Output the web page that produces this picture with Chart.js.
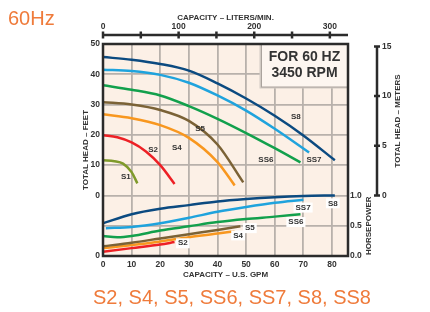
<!DOCTYPE html>
<html>
<head>
<meta charset="utf-8">
<script src="https://cdn.jsdelivr.net/npm/chart.js@4.4.0/dist/chart.umd.min.js"></script>
<style>
  body { margin: 0; background: #fff; }
  #wrap { position: relative; width: 430px; height: 312px; }
  .big { position: absolute; font-family: Arial, "Liberation Sans", sans-serif; font-size: 20px; line-height: 20px; color: #ef7b3b; white-space: nowrap; }
</style>
</head>
<body>
<div id="wrap">
  <canvas id="pump" width="430" height="312"></canvas>
  <div class="big" style="left:8px; top:8px;">60Hz</div>
  <div class="big" style="left:93px; top:287px;">S2, S4, S5, SS6, SS7, S8, SS8</div>
</div>
<script>
// head curves (feet) vs capacity (gpm)
const s8Gpm = [0, 10, 20, 30, 40, 50, 60, 70, 81];
const s8Head = [45.7, 44.8, 43.4, 41.2, 37, 32, 26.3, 19.8, 11.6];
const ss7Gpm = [0, 10, 20, 30, 40, 50, 60, 72];
const ss7Head = [41.5, 41.1, 39.8, 37.2, 33, 28, 22, 14.2];
const ss6Gpm = [0, 10, 20, 30, 40, 50, 60, 69];
const ss6Head = [36.4, 34.9, 33, 29.5, 25.3, 20.6, 15.6, 10.9];
const s5Gpm = [0, 10, 20, 30, 40, 49];
const s5Head = [30.8, 30, 28.2, 24.6, 16.8, 4.3];
const s4Gpm = [0, 10, 20, 30, 40, 46];
const s4Head = [26.8, 25.5, 23.2, 19, 11, 3.3];
const s2Gpm = [0, 5, 10, 15, 20, 25];
const s2Head = [19.9, 19.2, 17.5, 14.5, 10, 3.8];
const s1Gpm = [0, 4, 7, 10, 12];
const s1Head = [11.6, 11.3, 10.5, 7.7, 4];

// horsepower curves vs capacity (gpm)
const s8HpGpm = [0, 10, 20, 30, 40, 50, 60, 70, 81];
const s8Hp = [0.54, 0.69, 0.78, 0.84, 0.9, 0.94, 0.97, 0.99, 1.0];
const ss7HpGpm = [1, 10, 20, 30, 40, 50, 60, 70];
const ss7Hp = [0.46, 0.48, 0.54, 0.63, 0.73, 0.81, 0.88, 0.93];
const ss6HpGpm = [0, 5, 10, 20, 30, 40, 50, 60, 69];
const ss6Hp = [0.33, 0.31, 0.33, 0.42, 0.49, 0.56, 0.61, 0.65, 0.69];
const s5HpGpm = [0, 10, 20, 30, 40, 48];
const s5Hp = [0.16, 0.22, 0.29, 0.36, 0.43, 0.49];
const s4HpGpm = [0, 10, 20, 30, 40, 46];
const s4Hp = [0.13, 0.18, 0.24, 0.31, 0.37, 0.41];
const s2HpGpm = [0, 10, 20, 25];
const s2Hp = [0.07, 0.13, 0.19, 0.23];

// tick values
const feetTicks = [-20, -10, 0, 10, 20, 30, 40, 50];
const hpTicks = [0, 0.5, 1.0];
const meterTicks = [0, 5, 10, 15];
const literTicks = [0, 50, 100, 150, 200, 250, 300];

// curve names [text, gpm, value, axis]
const curveLabels = [
  ["S8", 67.4, 25.8, "y"], ["SS7", 73.7, 11.9, "y"], ["SS6", 56.9, 11.9, "y"],
  ["S5", 33.9, 21.9, "y"], ["S4", 25.8, 15.6, "y"], ["S2", 17.5, 15.2, "y"],
  ["S1", 8.0, 6.0, "y"],
  ["S8", 80.3, 0.87, "yHp"], ["SS7", 69.9, 0.8, "yHp"], ["SS6", 67.4, 0.56, "yHp"],
  ["S5", 51.3, 0.46, "yHp"], ["S4", 47.2, 0.34, "yHp"], ["S2", 27.9, 0.21, "yHp"],
];

const FT_TO_M = 0.3048;
const GPM_TO_L = 3.785;
const X_MAX = 85.6;
const FONT = "Arial, 'Liberation Sans', sans-serif";

function pts(xs, ys) {
  return xs.map((x, i) => ({ x: x, y: ys[i] }));
}

function curve(xs, ys, color, axis) {
  return {
    data: pts(xs, ys),
    borderColor: color,
    borderWidth: 2.5,
    pointRadius: 0,
    fill: false,
    cubicInterpolationMode: "monotone",
    yAxisID: axis,
  };
}

const navy = "#0b4a80", sky = "#1fa3dd", green = "#12a04c", brown = "#7b6236",
  orange = "#f8971f", red = "#ed2025", olive = "#7f9a2b";

const extras = {
  id: "extras",
  beforeDraw(chart) {
    const { ctx, chartArea: a } = chart;
    ctx.save();
    ctx.fillStyle = "#fcf0e6";
    ctx.fillRect(a.left, a.top, a.right - a.left, a.bottom - a.top);
    ctx.restore();
  },
  beforeDatasetsDraw(chart) {
    const { ctx, chartArea: a, scales } = chart;
    const bl = scales.x.getPixelForValue(55.2);
    const bb = scales.y.getPixelForValue(35.8);
    ctx.save();
    ctx.fillStyle = "#d2cbc4";
    ctx.fillRect(bl - 1.5, a.top, a.right - bl + 1.5, bb - a.top + 1.5);
    ctx.fillStyle = "#fdf6f0";
    ctx.fillRect(bl, a.top, a.right - bl, bb - a.top);
    ctx.strokeStyle = "#aaa39d";
    ctx.lineWidth = 1;
    ctx.strokeRect(bl + 0.5, a.top, a.right - bl, bb - a.top);
    ctx.fillStyle = "#333";
    ctx.font = "bold 14px " + FONT;
    ctx.textAlign = "center";
    ctx.textBaseline = "middle";
    const cx = (bl + a.right) / 2;
    ctx.fillText("FOR 60 HZ", cx, a.top + 13);
    ctx.fillText("3450 RPM", cx, a.top + 29);
    ctx.restore();
  },
  afterDatasetsDraw(chart) {
    const { ctx, chartArea: a, scales } = chart;
    ctx.save();
    // frame
    ctx.strokeStyle = "#2b2b2b";
    ctx.lineWidth = 2.5;
    ctx.strokeRect(a.left, a.top, a.right - a.left, a.bottom - a.top);

    // top liters axis
    const y0 = a.top - 9;
    ctx.beginPath();
    ctx.moveTo(scales.x2.getPixelForValue(0), y0);
    ctx.lineTo(a.right, y0);
    literTicks.forEach((v) => {
      const px = scales.x2.getPixelForValue(v);
      ctx.moveTo(px, y0 - 3.5);
      ctx.lineTo(px, y0 + 3.5);
    });
    ctx.stroke();

    // meters axis
    const m = scales.yM;
    const xm = m.left + 1;
    ctx.beginPath();
    ctx.moveTo(xm, m.getPixelForValue(0));
    ctx.lineTo(xm, m.getPixelForValue(15));
    meterTicks.forEach((v) => {
      const py = m.getPixelForValue(v);
      ctx.moveTo(xm - 3, py);
      ctx.lineTo(xm + 3, py);
    });
    ctx.stroke();

    // rotated right titles
    ctx.fillStyle = "#333";
    ctx.font = "bold 8px " + FONT;
    ctx.textAlign = "center";
    ctx.textBaseline = "middle";
    ctx.save();
    ctx.translate(scales.yHp.left + 21, scales.yHp.getPixelForValue(0.5));
    ctx.rotate(-Math.PI / 2);
    ctx.fillText("HORSEPOWER", 0, 0);
    ctx.restore();
    ctx.save();
    ctx.translate(m.left + 22, m.getPixelForValue(7.5));
    ctx.rotate(-Math.PI / 2);
    ctx.fillText("TOTAL HEAD – METERS", 0, 0);
    ctx.restore();

    // curve names
    curveLabels.forEach(([t, gx, gv, ax]) => {
      const px = scales.x.getPixelForValue(gx);
      const py = scales[ax].getPixelForValue(gv);
      if (ax === "yHp") {
        const w = ctx.measureText(t).width;
        ctx.fillStyle = "#ffffff";
        ctx.fillRect(px - w / 2 - 2, py - 5, w + 4, 10);
      }
      ctx.fillStyle = "#333";
      ctx.fillText(t, px, py);
    });
    ctx.restore();
  },
};

Chart.defaults.font.family = FONT;
Chart.defaults.color = "#333";

const tickFont = { size: 8.5, weight: "bold" };
const titleFont = { size: 8, weight: "bold" };
const gridColor = "#b8b1ab";

new Chart(document.getElementById("pump"), {
  type: "line",
  data: {
    datasets: [
      curve(s8Gpm, s8Head, navy, "y"),
      curve(ss7Gpm, ss7Head, sky, "y"),
      curve(ss6Gpm, ss6Head, green, "y"),
      curve(s5Gpm, s5Head, brown, "y"),
      curve(s4Gpm, s4Head, orange, "y"),
      curve(s2Gpm, s2Head, red, "y"),
      curve(s1Gpm, s1Head, olive, "y"),
      curve(s8HpGpm, s8Hp, navy, "yHp"),
      curve(ss7HpGpm, ss7Hp, sky, "yHp"),
      curve(ss6HpGpm, ss6Hp, green, "yHp"),
      curve(s5HpGpm, s5Hp, brown, "yHp"),
      curve(s4HpGpm, s4Hp, orange, "yHp"),
      curve(s2HpGpm, s2Hp, red, "yHp"),
    ],
  },
  options: {
    responsive: false,
    animation: false,
    devicePixelRatio: 1,
    layout: { padding: { top: 9, bottom: 32, left: 81, right: 24 } },
    plugins: { legend: { display: false }, tooltip: { enabled: false } },
    scales: {
      x: {
        type: "linear",
        position: "bottom",
        min: 0,
        max: X_MAX,
        afterFit: (s) => { s.height = 24; },
        ticks: { stepSize: 10, includeBounds: false, padding: 4, maxRotation: 0, font: tickFont },
        grid: { color: gridColor, lineWidth: 1.8, drawTicks: false },
        border: { display: false },
        title: { display: true, text: "CAPACITY – U.S. GPM", font: titleFont, padding: 0 },
      },
      x2: {
        type: "linear",
        position: "top",
        min: 0,
        max: X_MAX * GPM_TO_L,
        afterFit: (s) => { s.height = 35; },
        ticks: { stepSize: 100, includeBounds: false, padding: 12, maxRotation: 0, font: tickFont },
        grid: { display: false, drawTicks: false },
        border: { display: false },
        title: { display: true, text: "CAPACITY – LITERS/MIN.", font: titleFont, padding: { top: 4, bottom: 0 } },
      },
      y: {
        type: "linear",
        position: "left",
        min: -20,
        max: 50,
        afterFit: (s) => { s.width = 22; },
        afterBuildTicks: (s) => { s.ticks = feetTicks.map((v) => ({ value: v })); },
        ticks: {
          padding: 3,
          font: tickFont,
          callback: (v) => (v === -20 ? "0" : v === -10 ? "" : String(v)),
        },
        grid: { color: gridColor, lineWidth: 1.8, drawTicks: false },
        border: { display: false },
        title: { display: true, text: "TOTAL HEAD – FEET", font: titleFont, padding: 0 },
      },
      yHp: {
        type: "linear",
        position: "right",
        weight: 0,
        min: 0,
        max: 3.5,
        afterFit: (s) => { s.width = 28; },
        afterBuildTicks: (s) => { s.ticks = hpTicks.map((v) => ({ value: v })); },
        ticks: { padding: 2, font: tickFont, callback: (v) => v.toFixed(1) },
        grid: { display: false, drawTicks: false },
        border: { display: false },
      },
      yM: {
        type: "linear",
        position: "right",
        weight: 1,
        min: -20 * FT_TO_M,
        max: 50 * FT_TO_M,
        afterFit: (s) => { s.width = 30; },
        afterBuildTicks: (s) => { s.ticks = meterTicks.map((v) => ({ value: v })); },
        ticks: { padding: 6, font: tickFont },
        grid: { display: false, drawTicks: false },
        border: { display: false },
      },
    },
  },
  plugins: [extras],
});
</script>
</body>
</html>
